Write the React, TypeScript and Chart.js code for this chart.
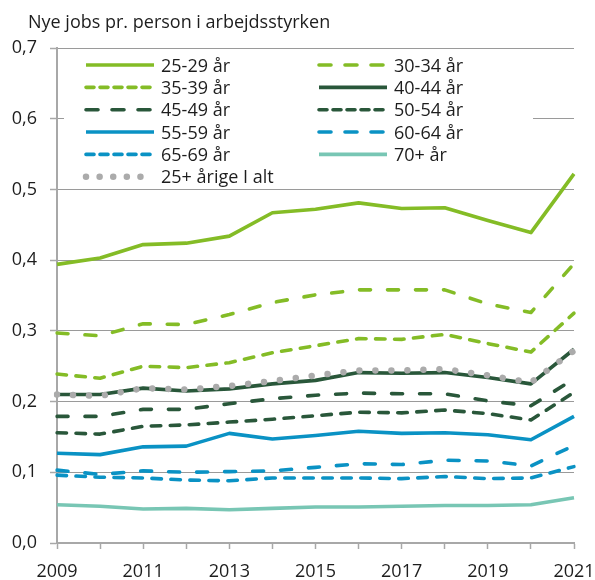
import React, { useEffect, useRef } from "react";
import { Chart, registerables } from "chart.js";

Chart.register(...registerables);

const TITLE = "Nye jobs pr. person i arbejdsstyrken";
const years = ["2009", "2010", "2011", "2012", "2013", "2014", "2015", "2016", "2017", "2018", "2019", "2020", "2021"];
const yTicks = [0, 0.1, 0.2, 0.3, 0.4, 0.5, 0.6, 0.7];

const a2529 = [0.394, 0.403, 0.422, 0.424, 0.434, 0.467, 0.472, 0.481, 0.473, 0.474, 0.456, 0.439, 0.522];
const a3034 = [0.297, 0.293, 0.310, 0.309, 0.323, 0.340, 0.351, 0.358, 0.358, 0.358, 0.338, 0.326, 0.395];
const a3539 = [0.239, 0.233, 0.250, 0.248, 0.255, 0.269, 0.279, 0.289, 0.288, 0.295, 0.282, 0.270, 0.325];
const a4044 = [0.210, 0.210, 0.219, 0.215, 0.218, 0.225, 0.230, 0.241, 0.240, 0.241, 0.234, 0.225, 0.274];
const a4549 = [0.179, 0.179, 0.189, 0.189, 0.197, 0.204, 0.209, 0.212, 0.211, 0.211, 0.201, 0.194, 0.232];
const a5054 = [0.156, 0.154, 0.165, 0.167, 0.171, 0.175, 0.180, 0.185, 0.184, 0.188, 0.183, 0.174, 0.213];
const a5559 = [0.127, 0.125, 0.136, 0.137, 0.155, 0.147, 0.152, 0.158, 0.155, 0.156, 0.153, 0.146, 0.179];
const a6064 = [0.103, 0.097, 0.102, 0.100, 0.101, 0.102, 0.107, 0.112, 0.111, 0.117, 0.116, 0.109, 0.138];
const a6569 = [0.096, 0.093, 0.092, 0.089, 0.088, 0.092, 0.092, 0.092, 0.091, 0.094, 0.091, 0.092, 0.108];
const a70 = [0.054, 0.052, 0.048, 0.049, 0.047, 0.049, 0.051, 0.051, 0.052, 0.053, 0.053, 0.054, 0.064];
const aTotal = [0.210, 0.208, 0.219, 0.217, 0.222, 0.229, 0.237, 0.244, 0.244, 0.246, 0.237, 0.227, 0.272];

const LIGHT = "#84BC26";
const DARK = "#29573A";
const BLUE = "#0A92C4";
const TEAL = "#78C6B4";
const GRAY = "#ABABAB";
const LONG = [11, 17];
const SHORT = [9.5, 9.5];
const FONT = "'Open Sans', sans-serif";
const TEXT = "#1d1d1d";

function mk(label: string, data: number[], color: string, dash: number[], extra: any = {}) {
  return {
    label,
    data,
    borderColor: color,
    backgroundColor: color,
    borderWidth: 3.6,
    borderDash: dash,
    borderCapStyle: dash.length ? "round" : "butt",
    borderJoinStyle: "round",
    pointRadius: 0,
    tension: 0,
    fill: false,
    ...extra,
  };
}

const legendPlugin = {
  id: "inlineLegend",
  beforeDatasetsDraw(chart: any) {
    const { ctx, chartArea } = chart;
    const L = chartArea.left;
    const T = chartArea.top;
    ctx.save();
    ctx.fillStyle = "#ffffff";
    ctx.fillRect(L + 7, T + 4, 469, 136);
    const ds = chart.data.datasets;
    ds.forEach((d: any, i: number) => {
      const col = i % 2;
      const row = Math.floor(i / 2);
      const y = T + 17 + row * 22.35;
      const x0 = L + (col === 0 ? 29 : 262);
      const x1 = x0 + 68;
      ctx.save();
      ctx.strokeStyle = d.borderColor;
      ctx.lineWidth = d.borderWidth;
      ctx.setLineDash(d.legendDash || d.borderDash || []);
      ctx.lineCap = d.borderCapStyle || "butt";
      ctx.beginPath();
      ctx.moveTo(x0, y);
      ctx.lineTo(x1, y);
      ctx.stroke();
      ctx.restore();
      ctx.fillStyle = TEXT;
      ctx.font = `18px ${FONT}`;
      ctx.textBaseline = "alphabetic";
      ctx.textAlign = "left";
      ctx.fillText(d.label, x0 + 75, y + 6.5);
    });
    ctx.restore();
  },
  afterDraw(chart: any) {
    const { ctx } = chart;
    ctx.save();
    ctx.fillStyle = TEXT;
    ctx.font = `18px ${FONT}`;
    ctx.textBaseline = "alphabetic";
    ctx.textAlign = "left";
    ctx.fillText(TITLE, 28, 27.5);
    ctx.restore();
  },
};

export default function App() {
  const ref = useRef<HTMLCanvasElement | null>(null);
  useEffect(() => {
    if (!ref.current) return;
    Chart.defaults.font.family = FONT;
    const chart = new Chart(ref.current, {
      type: "line",
      data: {
        labels: years,
        datasets: [
          mk("25-29 år", a2529, LIGHT, []),
          mk("30-34 år", a3034, LIGHT, LONG, { legendDash: [12, 14] }),
          mk("35-39 år", a3539, LIGHT, SHORT, { legendDash: [8, 6] }),
          mk("40-44 år", a4044, DARK, []),
          mk("45-49 år", a4549, DARK, LONG, { legendDash: [12, 14] }),
          mk("50-54 år", a5054, DARK, SHORT, { legendDash: [8, 6] }),
          mk("55-59 år", a5559, BLUE, []),
          mk("60-64 år", a6064, BLUE, LONG, { legendDash: [12, 14] }),
          mk("65-69 år", a6569, BLUE, SHORT, { legendDash: [8, 6] }),
          mk("70+ år", a70, TEAL, []),
          mk("25+ årige I alt", aTotal, GRAY, [0.01, 16], { borderWidth: 6.5, borderCapStyle: "round", order: -1, legendDash: [0.01, 13.6] }),
        ],
      } as any,
      options: {
        animation: false,
        responsive: false,
        layout: { padding: { top: 48, right: 21, left: 0, bottom: 0 } },
        plugins: { legend: { display: false }, title: { display: false }, tooltip: { enabled: false } },
        scales: {
          x: {
            type: "category",
            offset: false,
            afterFit: (s: any) => { s.height = 37; s.paddingLeft = 0; s.paddingRight = 0; },
            grid: { drawOnChartArea: false, drawTicks: true, tickLength: 6, tickColor: "#A8A8A8", tickWidth: 1.5 },
            border: { display: true, color: "#A8A8A8", width: 2 },
            ticks: {
              autoSkip: false,
              maxRotation: 0,
              padding: 12,
              color: TEXT,
              font: { size: 18, family: FONT },
              callback: function (this: any, v: any, i: number) {
                return i % 2 === 0 ? years[i] : "";
              },
            },
          },
          y: {
            min: 0,
            max: 0.7,
            afterFit: (s: any) => { s.width = 57; s.paddingTop = 0; s.paddingBottom = 0; },
            afterBuildTicks: (s: any) => { s.ticks = yTicks.map((v) => ({ value: v })); },
            grid: {
              color: "#9A9A9A",
              lineWidth: 1,
              borderDash: [5, 3],
              drawTicks: true,
              tickLength: 7,
              tickColor: "#A8A8A8",
              tickWidth: 1.5,
              tickBorderDash: [],
            } as any,
            border: { display: true, color: "#A8A8A8", width: 2 },
            ticks: {
              padding: 13,
              color: TEXT,
              font: { size: 18, family: FONT },
              callback: (v: any) => Number(v).toFixed(1).replace(".", ","),
            },
          },
        },
      } as any,
      plugins: [legendPlugin],
    });
    return () => chart.destroy();
  }, []);
  return (
    <div style={{ position: "absolute", left: 0, top: 0, width: 595, height: 580, background: "#fff" }}>
      <canvas ref={ref} width={595} height={580} />
    </div>
  );
}
